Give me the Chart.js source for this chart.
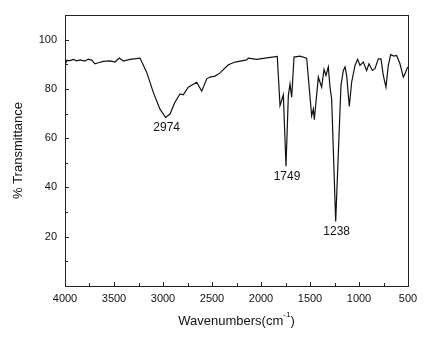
<!DOCTYPE html>
<html>
<head>
<meta charset="utf-8">
<script src="https://cdn.jsdelivr.net/npm/chart.js@4"></script>
<style>
  html, body { margin: 0; padding: 0; background: #fff; }
  #wrap { width: 429px; height: 337px; }
</style>
</head>
<body>
<div id="wrap"><canvas id="myChart" width="429" height="337"></canvas></div>
<script>
// wavenumbers (cm-1) and % transmittance
const wavenumbers = [4000, 3995, 3983, 3950, 3915, 3881, 3847, 3796, 3762, 3728, 3694, 3660,
  3609, 3541, 3490, 3446, 3405, 3337, 3235,
  3167, 3099, 3031, 2973, 2929, 2878, 2827, 2793, 2742, 2656, 2605, 2554, 2520, 2469,
  2418, 2333, 2265, 2146, 2130, 2044, 1959, 1834, 1806, 1772, 1745, 1721, 1704, 1687,
  1663, 1602, 1534, 1483, 1466, 1456, 1415, 1398, 1381, 1357, 1337, 1313, 1296, 1279,
  1238, 1184, 1160, 1143, 1126, 1099, 1075, 1041, 1014, 990, 956, 922, 898, 864, 837,
  803, 776, 752, 725, 701, 677, 643, 616, 582, 548, 531, 503];
const transmittance = [69, 90, 91.6, 91.5, 92, 91.4, 91.8, 91.3, 92.1, 91.7, 90.2, 90.6,
  91.2, 91.4, 90.9, 92.5, 91.3, 92, 92.5,
  86.8, 78.6, 71.8, 68.4, 69.8, 74.6, 78, 77.6, 80.7, 82.7, 79.1, 84.1, 84.8, 85.2,
  86.5, 89.8, 90.9, 91.8, 92.5, 92, 92.5, 93.2, 73.2, 77.6, 48.6, 77.3, 82, 76.6,
  92.9, 93.3, 92.5, 69.1, 71.8, 67.5, 84.8, 82.7, 80.7, 87.9, 85.5, 88.9, 80.7, 75.9,
  26.2, 81.4, 87.5, 88.9, 85.5, 72.9, 82.7, 89.5, 92, 89.5, 90.9, 87.5, 90.2, 87.5, 88.2,
  92.2, 92.2, 85.5, 80.7, 89.5, 93.9, 93.3, 93.6, 90.2, 84.8, 86.1, 88.9];

// labelled peaks
const peakLabels = ['2974', '1749', '1238'];
const peakX = [2973, 1745, 1238];
const peakY = [68.4, 48.6, 26.2];

const xMajor = [4000, 3500, 3000, 2500, 2000, 1500, 1000, 500];
const xMinor = [3750, 3250, 2750, 2250, 1750, 1250, 750];
const yMajor = [20, 40, 60, 80, 100];
const yMinor = [10, 30, 50, 70, 90];

const fontFamily = '"Liberation Sans", Arial, sans-serif';

const framePlugin = {
  id: 'frame',
  afterDraw(chart) {
    const ctx = chart.ctx;
    const a = chart.chartArea;
    const xs = chart.scales.x;
    const ys = chart.scales.y;
    ctx.save();
    ctx.strokeStyle = '#222';
    ctx.lineWidth = 1;
    ctx.strokeRect(a.left + 0.5, a.top + 0.5, a.right - a.left, a.bottom - a.top);
    ctx.beginPath();
    xMajor.forEach(v => {
      const p = Math.round(xs.getPixelForValue(v)) + 0.5;
      ctx.moveTo(p, a.bottom); ctx.lineTo(p, a.bottom - 4);
    });
    xMinor.forEach(v => {
      const p = Math.round(xs.getPixelForValue(v)) + 0.5;
      ctx.moveTo(p, a.bottom); ctx.lineTo(p, a.bottom - 3);
    });
    yMajor.forEach(v => {
      const p = Math.round(ys.getPixelForValue(v)) + 0.5;
      ctx.moveTo(a.left, p); ctx.lineTo(a.left + 4, p);
    });
    yMinor.forEach(v => {
      const p = Math.round(ys.getPixelForValue(v)) + 0.5;
      ctx.moveTo(a.left, p); ctx.lineTo(a.left + 3, p);
    });
    ctx.stroke();

    // peak labels
    ctx.fillStyle = '#111';
    ctx.font = '12px ' + fontFamily;
    ctx.textAlign = 'center';
    ctx.textBaseline = 'top';
    for (let i = 0; i < peakLabels.length; i++) {
      ctx.fillText(peakLabels[i], xs.getPixelForValue(peakX[i]) + 1, ys.getPixelForValue(peakY[i]) + 4);
    }

    // axis titles
    ctx.textBaseline = 'middle';
    const main = 'Wavenumbers(cm';
    const sup = '-1';
    ctx.font = '13px ' + fontFamily;
    const w1 = ctx.measureText(main).width;
    ctx.font = '8px ' + fontFamily;
    const w2 = ctx.measureText(sup).width;
    ctx.font = '13px ' + fontFamily;
    const w3 = ctx.measureText(')').width;
    let x0 = (a.left + a.right) / 2 - (w1 + w2 + w3) / 2;
    const ty = 321;
    ctx.textAlign = 'left';
    ctx.fillText(main, x0, ty);
    ctx.font = '8px ' + fontFamily;
    ctx.fillText(sup, x0 + w1, ty - 6);
    ctx.font = '13px ' + fontFamily;
    ctx.fillText(')', x0 + w1 + w2, ty);

    ctx.translate(18, (a.top + a.bottom) / 2);
    ctx.rotate(-Math.PI / 2);
    ctx.textAlign = 'center';
    ctx.fillText('% Transmittance', 0, 0);
    ctx.restore();
  }
};

const ctx = document.getElementById('myChart').getContext('2d');
const myChart = new Chart(ctx, {
  type: 'line',
  data: {
    datasets: [{
      data: wavenumbers.map((w, i) => ({ x: w, y: transmittance[i] })),
      borderColor: '#111',
      borderWidth: 1.2,
      pointRadius: 0,
      tension: 0,
      fill: false
    }]
  },
  options: {
    responsive: false,
    animation: false,
    layout: { padding: { left: 0, right: 21, top: 15, bottom: 0 } },
    plugins: { legend: { display: false }, tooltip: { enabled: false } },
    scales: {
      x: {
        type: 'linear',
        reverse: true,
        min: 500,
        max: 4000,
        grid: { display: false, drawTicks: false },
        border: { display: false },
        ticks: {
          stepSize: 500,
          padding: 6,
          color: '#111',
          font: { family: fontFamily, size: 11 },
          maxRotation: 0,
          callback: v => String(v)
        },
        afterFit: s => { s.height = 51; }
      },
      y: {
        min: 0,
        max: 110,
        grid: { display: false, drawTicks: false },
        border: { display: false },
        ticks: {
          stepSize: 10,
          padding: 8,
          color: '#111',
          font: { family: fontFamily, size: 11 },
          callback: v => (yMajor.includes(v) ? String(v) : '')
        },
        afterFit: s => { s.width = 65; }
      }
    }
  },
  plugins: [framePlugin]
});
</script>
</body>
</html>
